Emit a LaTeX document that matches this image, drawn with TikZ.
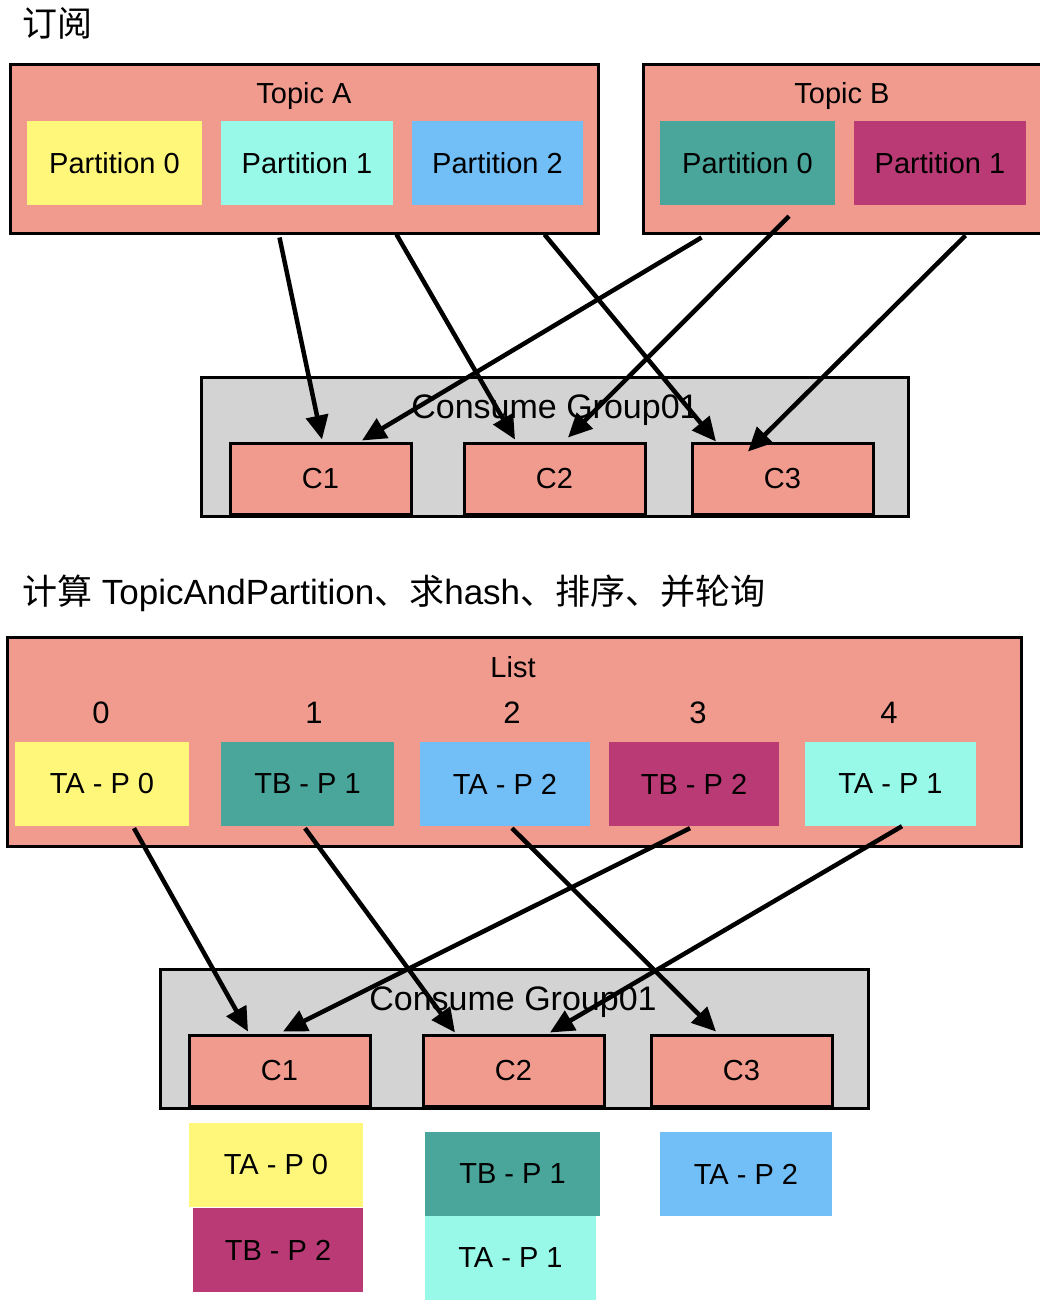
\documentclass[tikz,border=0pt]{standalone}
\usepackage{fontspec}
\setmainfont{Liberation Sans}
\newfontfamily\cjk{Noto Sans CJK SC}
\usetikzlibrary{arrows.meta,calc}
\definecolor{salmon}{HTML}{F19B8F}
\definecolor{pyellow}{HTML}{FFF77A}
\definecolor{paqua}{HTML}{98F9E9}
\definecolor{pblue}{HTML}{72BFF8}
\definecolor{pteal}{HTML}{4AA59B}
\definecolor{pmag}{HTML}{BA3A75}
\definecolor{ggray}{HTML}{D3D3D3}
\tikzset{
  outerbox/.style={draw=black, line width=3pt, fill=salmon, inner sep=0pt},
  groupbox/.style={draw=black, line width=3pt, fill=ggray, inner sep=0pt},
  cbox/.style={draw=black, line width=3pt, fill=salmon, inner sep=0pt, minimum width=181pt, minimum height=71pt, font=\fontsize{29}{34}\selectfont},
  part/.style={inner sep=0pt, minimum height=84pt, font=\fontsize{29}{34}\selectfont},
  lbl/.style={inner sep=0pt, font=\fontsize{29}{34}\selectfont},
  glbl/.style={inner sep=0pt, font=\fontsize{34}{40}\selectfont},
  idx/.style={inner sep=0pt, font=\fontsize{31}{36}\selectfont},
  head/.style={inner sep=0pt, anchor=west, font=\fontsize{35}{40}\selectfont},
  arr/.style={line width=4.5pt, -{Triangle[length=24pt,width=22pt]}}
}
\begin{document}
\begin{tikzpicture}[x=1pt,y=-1pt]
\useasboundingbox (0,0) rectangle (1040,1304);
\fill[white] (0,0) rectangle (1040,1304);

% ---------- section 1 ----------
\node[head] (h1) at (22,23) {\cjk 订阅};

\node[outerbox, minimum width=588pt, minimum height=169pt] (tA) at (304,148.5) {};
\node[lbl] (tAl) at (304,96) {Topic A};
\node[part, fill=pyellow, minimum width=175pt] (tap0) at (114.5,163) {Partition 0};
\node[part, fill=paqua, minimum width=172pt] (tap1) at (307,163) {Partition 1};
\node[part, fill=pblue, minimum width=171pt] (tap2) at (497.5,163) {Partition 2};

\node[outerbox, minimum width=407pt, minimum height=169pt] (tB) at (846.5,148.5) {};
\node[lbl] (tBl) at (842,96) {Topic B};
\node[part, fill=pteal, minimum width=175pt] (tbp0) at (747.5,163) {Partition 0};
\node[part, fill=pmag, minimum width=172pt] (tbp1) at (940,163) {Partition 1};

\node[groupbox, minimum width=707pt, minimum height=139pt] (g1) at (554.5,446.5) {};
\node[glbl] (g1l) at (555,410) {Consume Group01};
\node[cbox] (c1) at (320.5,478.5) {C1};
\node[cbox] (c2) at (554.5,478.5) {C2};
\node[cbox] (c3) at (782.5,478.5) {C3};

\draw[arr] ($(tA.south west)+(271,3)$) -- ($(c1.north)+(1.5,-2)$);
\draw[arr] ($(tA.south west)+(388,0)$) -- ($(c2.north)+(-39.5,-2)$);
\draw[arr] ($(tA.south west)+(536,0)$) -- ($(c3.north)+(-66.5,0)$);
\draw[arr] ($(tB.south west)+(60,3)$) -- ($(c1.north)+(41.5,-1)$);
\draw[arr] ($(tbp0.south)+(41.5,11)$) -- ($(c2.north)+(13.5,-4)$);
\draw[arr] ($(tB.south west)+(324,1)$) -- ($(c3.north)+(-34.5,10)$);

% ---------- section 2 ----------
\node[head] (h2) at (22,593) {{\cjk 计算} TopicAndPartition{\cjk 、求}hash{\cjk 、排序、并轮询}};

\node[outerbox, minimum width=1014pt, minimum height=209pt] (lst) at (514,741.5) {};
\node[lbl] (lstl) at (513,667) {List};
\node[idx] (i0) at (101,713) {0};
\node[idx] (i1) at (314,713) {1};
\node[idx] (i2) at (512,713) {2};
\node[idx] (i3) at (698,713) {3};
\node[idx] (i4) at (889,713) {4};
\node[part, fill=pyellow, minimum width=174pt] (l0) at (102,784) {TA - P 0};
\node[part, fill=pteal, minimum width=173pt] (l1) at (307.5,784) {TB - P 1};
\node[part, fill=pblue, minimum width=170pt] (l2) at (505,784) {TA - P 2};
\node[part, fill=pmag, minimum width=170pt] (l3) at (694,784) {TB - P 2};
\node[part, fill=paqua, minimum width=171pt] (l4) at (890.5,784) {TA - P 1};

\node[groupbox, minimum width=708pt, minimum height=139pt] (g2) at (514,1038.5) {};
\node[glbl] (g2l) at (513,1002) {Consume Group01};
\node[cbox] (d1) at (279.5,1070.5) {C1};
\node[cbox] (d2) at (513.5,1070.5) {C2};
\node[cbox] (d3) at (741.5,1070.5) {C3};

\node[part, fill=pyellow, minimum width=174pt] (b1) at (276,1165) {TA - P 0};
\node[part, fill=pmag, minimum width=170pt] (b2) at (278,1250) {TB - P 2};
\node[part, fill=pteal, minimum width=175pt] (b3) at (512.5,1174) {TB - P 1};
\node[part, fill=paqua, minimum width=171pt] (b4) at (510.5,1258) {TA - P 1};
\node[part, fill=pblue, minimum width=172pt] (b5) at (746,1174) {TA - P 2};

\draw[arr] ($(l0.south)+(32,2)$) -- ($(d1.north)+(-31.5,-2)$);
\draw[arr] ($(l1.south)+(-2.5,2)$) -- ($(d2.north)+(-58.5,-1)$);
\draw[arr] ($(l2.south)+(7,2)$) -- ($(d3.north)+(-25.5,-2)$);
\draw[arr] ($(l3.south)+(-4,2)$) -- ($(d1.north)+(3.5,-2)$);
\draw[arr] ($(l4.south)+(11.5,0)$) -- ($(d2.north)+(36.5,-1)$);
\end{tikzpicture}
\end{document}
